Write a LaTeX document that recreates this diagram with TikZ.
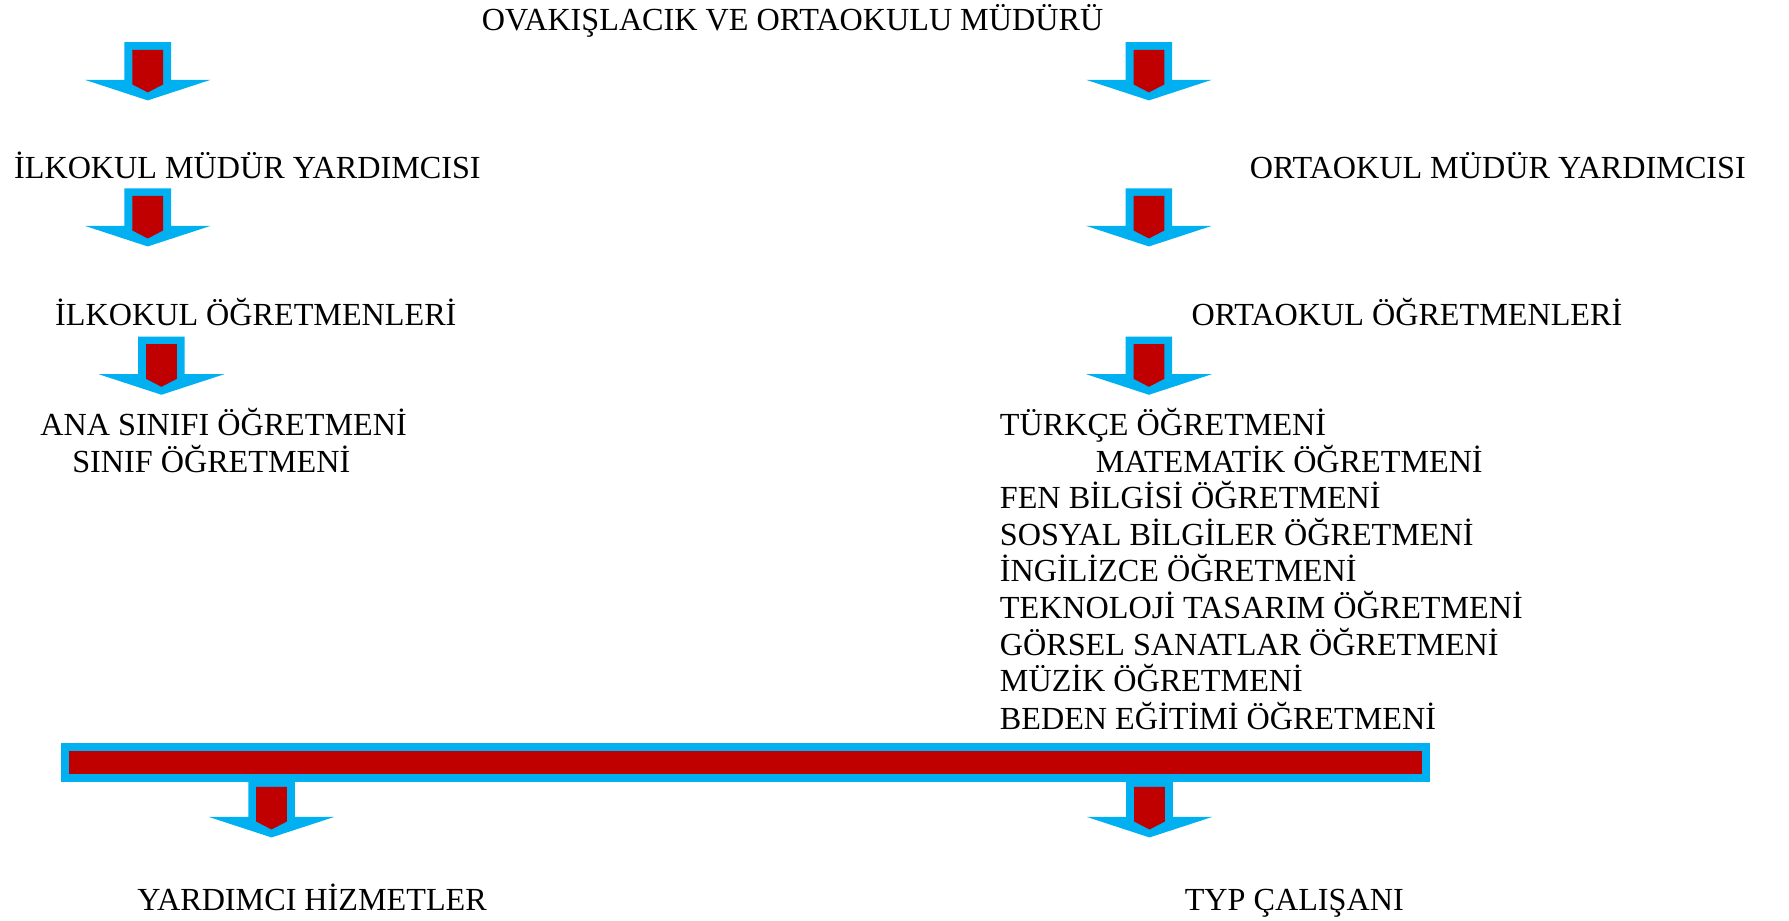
\documentclass[tikz,border=0pt]{standalone}
\usepackage{fontspec}
\setmainfont{Liberation Serif}
\usepackage{xcolor}
\definecolor{okulmavi}{HTML}{00B0F0}
\definecolor{okulkirmizi}{HTML}{C00000}
\tikzstyle{unvan} = [anchor=base west, inner sep=0pt, font=\fontsize{14.1}{16}\selectfont]
\tikzstyle{mavi} = [fill=okulmavi]
\tikzstyle{kirmizi} = [fill=okulkirmizi]
% block arrow: #1 = center x, #2 = top y
\newcommand{\blokok}[2]{%
\begin{scope}[shift={(#1,#2)}]
\fill[mavi] (-20.4,0) -- (20.4,0) -- (20.4,33) -- (55,33) -- (0,51) -- (-55,33) -- (-20.4,33) -- cycle;
\fill[kirmizi] (-13.5,6.7) -- (13.5,6.7) -- (13.5,37) -- (0,44) -- (-13.5,37) -- cycle;
\end{scope}}

\begin{document}
\begin{tikzpicture}[x=0.5pt, y=-0.5pt]
\useasboundingbox (0,0) rectangle (1568,807.2);

\node (mudur) [unvan] at (422,27) {OVAKIŞLACIK VE ORTAOKULU MÜDÜRÜ};

\node (ilkyrd) [unvan] at (12,156.5) {İLKOKUL MÜDÜR YARDIMCISI};
\node (ortayrd) [unvan] at (1095,156.5) {ORTAOKUL MÜDÜR YARDIMCISI};

\node (ilkogr) [unvan] at (48,285) {İLKOKUL ÖĞRETMENLERİ};
\node (ortaogr) [unvan] at (1044,285) {ORTAOKUL ÖĞRETMENLERİ};

\node (anasinif) [unvan] at (35,382) {ANA SINIFI ÖĞRETMENİ};
\node (sinif) [unvan] at (63,414) {SINIF ÖĞRETMENİ};

\node (turkce) [unvan] at (876,382) {TÜRKÇE ÖĞRETMENİ};
\node (mat) [unvan] at (960,414) {MATEMATİK ÖĞRETMENİ};
\node (fen) [unvan] at (876,446) {FEN BİLGİSİ ÖĞRETMENİ};
\node (sosyal) [unvan] at (876,478) {SOSYAL BİLGİLER ÖĞRETMENİ};
\node (ing) [unvan] at (876,510) {İNGİLİZCE ÖĞRETMENİ};
\node (tekno) [unvan] at (876,542.5) {TEKNOLOJİ TASARIM ÖĞRETMENİ};
\node (gorsel) [unvan] at (876,574.5) {GÖRSEL SANATLAR ÖĞRETMENİ};
\node (muzik) [unvan] at (876,606.5) {MÜZİK ÖĞRETMENİ};
\node (beden) [unvan] at (876,639) {BEDEN EĞİTİMİ ÖĞRETMENİ};

\node (yardimci) [unvan] at (120,798) {YARDIMCI HİZMETLER};
\node (typ) [unvan] at (1038,798) {TYP ÇALIŞANI};

% arrows
\blokok{129.5}{37}
\blokok{1007}{37}
\blokok{129.5}{165}
\blokok{1007}{165}
\blokok{141.5}{295}
\blokok{1007}{295}

% bar
\fill[mavi] (53.5,651) rectangle (1253.5,685);
\fill[kirmizi] (60.5,658) rectangle (1246.5,678);
\blokok{238}{683}
\blokok{1007.5}{683}
\end{tikzpicture}
\end{document}
